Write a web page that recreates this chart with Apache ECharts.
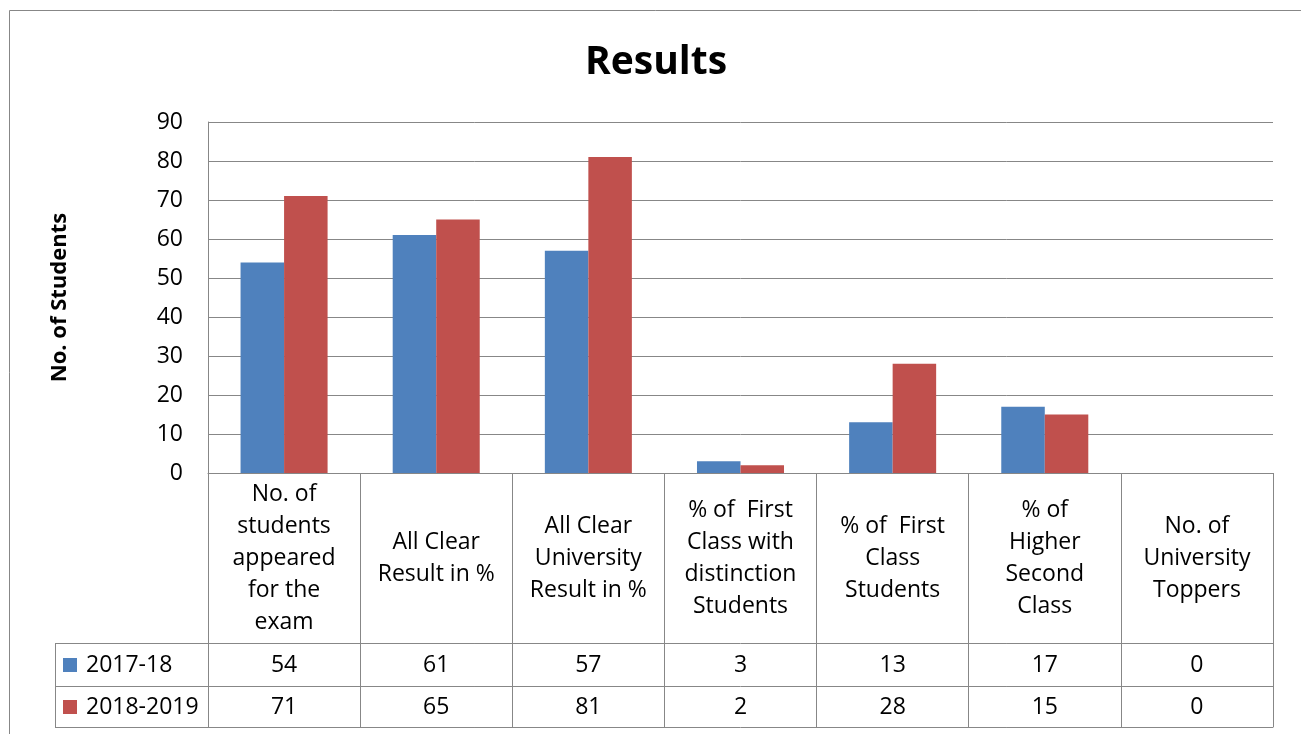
<!DOCTYPE html>
<html>
<head>
<meta charset="utf-8">
<script src="https://cdn.jsdelivr.net/npm/echarts@6/dist/echarts.min.js"></script>
<style>html,body{margin:0;padding:0;background:#fff;}#c{width:1301px;height:734px;}</style>
</head>
<body>
<div id="c"></div>
<script>
const categories = [
  "No. of\nstudents\nappeared\nfor the\nexam",
  "All Clear\nResult in %",
  "All Clear\nUniversity\nResult in %",
  "% of  First\nClass with\ndistinction\nStudents",
  "% of  First\nClass\nStudents",
  "% of\nHigher\nSecond\nClass",
  "No. of\nUniversity\nToppers"
];
const seriesNames = ["2017-18", "2018-2019"];
const values2017 = [54, 61, 57, 3, 13, 17, 0];
const values2018 = [71, 65, 81, 2, 28, 15, 0];
const yTicks = { min: 0, max: 90, interval: 10 };

const FONT = "'Open Sans', sans-serif";
const GRAY = '#878787';
const chart = echarts.init(document.getElementById('c'), null, { renderer: 'canvas' });

function rowAxis(offset, vals, margin) {
  return {
    type: 'category', gridIndex: 0, position: 'bottom', offset: offset,
    data: categories,
    axisLine: { show: true, lineStyle: { color: GRAY, width: 1 } },
    axisTick: { show: false },
    splitLine: { show: false },
    axisLabel: {
      show: !!vals, interval: 0, margin: margin, verticalAlign: 'middle',
      fontFamily: FONT, fontSize: 23, color: '#000',
      formatter: function (v, i) { return vals ? String(vals[i]) : ''; }
    }
  };
}

const option = {
  backgroundColor: '#fff',
  animation: false,
  title: {
    text: 'Results', left: 580, top: 38,
    textStyle: { fontFamily: FONT, fontSize: 39, fontWeight: 'bold', color: '#000' }
  },
  legend: [
    { data: [seriesNames[0]], orient: 'vertical', left: 63, top: 653, padding: 0,
      itemWidth: 14, itemHeight: 14, icon: 'rect',
      textStyle: { fontFamily: FONT, fontSize: 23, color: '#000', lineHeight: 24, padding: [0, 0, 0, 4] } },
    { data: [seriesNames[1]], orient: 'vertical', left: 63, top: 695, padding: 0,
      itemWidth: 14, itemHeight: 14, icon: 'rect',
      textStyle: { fontFamily: FONT, fontSize: 23, color: '#000', lineHeight: 24, padding: [0, 0, 0, 4] } }
  ],
  grid: { left: 208, right: 28, top: 122, bottom: 261, containLabel: false },
  xAxis: [
    {
      type: 'category', data: categories, position: 'bottom',
      axisLine: { show: true, lineStyle: { color: GRAY, width: 1 } },
      axisTick: { show: true, interval: 0, length: 254, lineStyle: { color: GRAY, width: 1 } },
      axisLabel: {
        interval: 0, margin: 85, verticalAlign: 'middle', align: 'center',
        fontFamily: FONT, fontSize: 23, lineHeight: 32, color: '#000'
      },
      splitLine: { show: false }
    },
    rowAxis(170, values2017, 22),
    rowAxis(213, values2018, 21),
    rowAxis(254, null, 0)
  ],
  yAxis: {
    type: 'value', min: yTicks.min, max: yTicks.max, interval: yTicks.interval,
    name: 'No. of Students', nameLocation: 'middle', nameGap: 137,
    nameTextStyle: { fontFamily: FONT, fontSize: 22, fontWeight: 'bold', color: '#000' },
    axisLine: { show: true, lineStyle: { color: GRAY, width: 1 } },
    axisTick: { show: false },
    axisLabel: { margin: 25, fontFamily: FONT, fontSize: 23, color: '#000' },
    splitLine: { show: true, lineStyle: { color: GRAY, width: 1 } }
  },
  series: [
    { name: seriesNames[0], type: 'bar', xAxisIndex: 0, data: values2017,
      barWidth: '28.6%', barGap: '0%', itemStyle: { color: '#4F81BD' } },
    { name: seriesNames[1], type: 'bar', xAxisIndex: 0, data: values2018,
      barWidth: '28.6%', barGap: '0%', itemStyle: { color: '#C0504D' } }
  ],
  graphic: [
    { type: 'rect', silent: true, z: -10, shape: { x: 9.5, y: 10.5, width: 1400, height: 800 },
      style: { fill: 'none', stroke: GRAY, lineWidth: 1 } },
    { type: 'line', silent: true, shape: { x1: 55, y1: 643.5, x2: 208, y2: 643.5 }, style: { stroke: GRAY, lineWidth: 1 } },
    { type: 'line', silent: true, shape: { x1: 55, y1: 686.5, x2: 208, y2: 686.5 }, style: { stroke: GRAY, lineWidth: 1 } },
    { type: 'line', silent: true, shape: { x1: 55, y1: 727.5, x2: 208, y2: 727.5 }, style: { stroke: GRAY, lineWidth: 1 } },
    { type: 'line', silent: true, shape: { x1: 55.5, y1: 643, x2: 55.5, y2: 728 }, style: { stroke: GRAY, lineWidth: 1 } }
  ]
};
chart.setOption(option);
</script>
</body>
</html>
